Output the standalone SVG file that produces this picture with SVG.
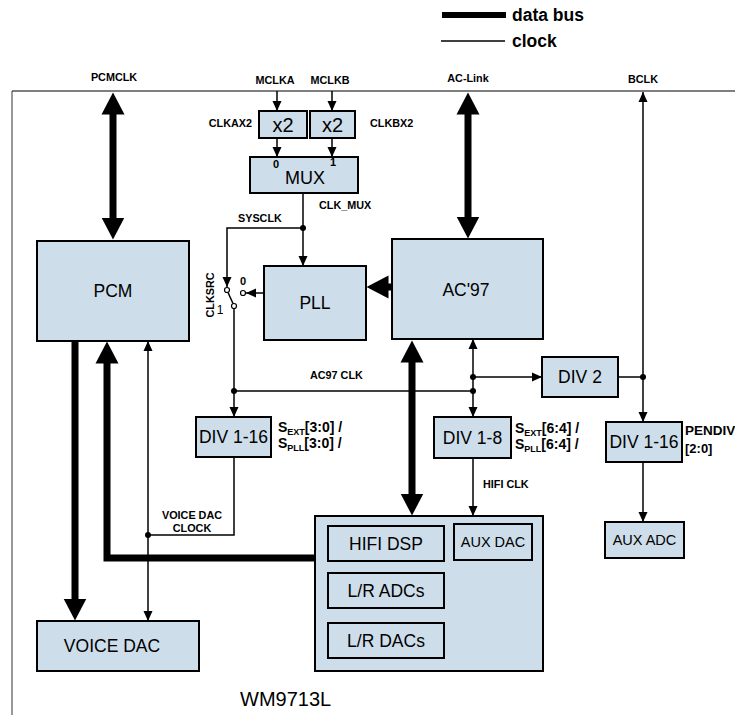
<svg xmlns="http://www.w3.org/2000/svg" width="735" height="715" viewBox="0 0 735 715">
<style>
.box{fill:#cddde9;stroke:#000;stroke-width:2}
.lbl{font-family:"Liberation Sans",Arial,sans-serif;font-size:17.5px;fill:#000;text-anchor:middle}
.sm{font-size:14.5px}
.b{font-family:"Liberation Sans",Arial,sans-serif;font-weight:bold;font-size:10.8px;fill:#000}
.c{text-anchor:middle}
.s{font-family:"Liberation Sans",Arial,sans-serif;font-weight:bold;font-size:14px;fill:#000}
.sub{font-size:9px}
.thin{fill:none;stroke:#000;stroke-width:1.5}
.thick{fill:none;stroke:#000;stroke-width:7}
.dot{fill:#000}
.term{fill:#fff;stroke:#000;stroke-width:1.2}
</style>
<defs>
<marker id="ta" markerUnits="userSpaceOnUse" markerWidth="12" markerHeight="12" viewBox="0 -6 12 12" refX="10" refY="0" orient="auto-start-reverse">
<path d="M0,-4.5 L10,0 L0,4.5 z" fill="#000"/>
</marker>
<marker id="ba" markerUnits="userSpaceOnUse" markerWidth="24" markerHeight="24" viewBox="0 -12 24 24" refX="0.5" refY="0" orient="auto-start-reverse">
<path d="M0,-11.5 L22,0 L0,11.5 z" fill="#000"/>
</marker>
</defs>

<!-- legend -->
<g id="legend">
<line x1="442" y1="15" x2="506" y2="15" stroke="#000" stroke-width="6"/>
<text x="512" y="21" class="b" style="font-size:17.5px">data bus</text>
<line x1="441" y1="41" x2="505" y2="41" stroke="#000" stroke-width="1.5"/>
<text x="512" y="47" class="b" style="font-size:17.5px">clock</text>
</g>

<!-- chip frame -->
<g id="frame">
<line x1="12" y1="91" x2="735" y2="91" stroke="#555" stroke-width="1.5"/>
<line x1="12" y1="91" x2="12" y2="715" stroke="#333" stroke-width="1"/>
<text x="240" y="706" style="font-family:'Liberation Sans',Arial,sans-serif;font-size:20px">WM9713L</text>
</g>

<!-- pin labels -->
<g id="pins">
<text x="114" y="81" class="b c">PCMCLK</text>
<text x="275" y="84" class="b c">MCLKA</text>
<text x="330" y="84" class="b c">MCLKB</text>
<text x="468" y="82" class="b c">AC-Link</text>
<text x="643" y="83" class="b c">BCLK</text>
</g>

<!-- connectors -->
<g id="connectors">
<!-- thick buses -->
<line x1="113" y1="114" x2="113" y2="218" class="thick" marker-start="url(#ba)" marker-end="url(#ba)"/>
<line x1="468" y1="114" x2="468" y2="217" class="thick" marker-start="url(#ba)" marker-end="url(#ba)"/>
<line x1="392" y1="287" x2="388" y2="287" class="thick" marker-end="url(#ba)"/>
<line x1="75" y1="341" x2="75" y2="599" class="thick" marker-end="url(#ba)"/>
<path d="M316,558 H107 V363" class="thick" marker-end="url(#ba)"/>
<line x1="412" y1="362" x2="412" y2="494" class="thick" marker-start="url(#ba)" marker-end="url(#ba)"/>

<!-- clocks -->
<line x1="277" y1="91" x2="277" y2="111" class="thin" marker-end="url(#ta)"/>
<line x1="332" y1="91" x2="332" y2="111" class="thin" marker-end="url(#ta)"/>
<line x1="277" y1="138" x2="277" y2="157" class="thin" marker-end="url(#ta)"/>
<line x1="332" y1="138" x2="332" y2="157" class="thin" marker-end="url(#ta)"/>
<line x1="303" y1="193" x2="303" y2="266" class="thin" marker-end="url(#ta)"/>
<path d="M303,228 H227 V287" class="thin" marker-end="url(#ta)"/>
<circle cx="303" cy="228" r="3" class="dot"/>
<line x1="264" y1="293" x2="246" y2="293" class="thin" marker-end="url(#ta)"/>
<line x1="228" y1="292.5" x2="233" y2="303.5" class="thin"/>
<line x1="234" y1="308.5" x2="234" y2="417" class="thin" marker-end="url(#ta)"/>
<circle cx="227" cy="290" r="2.5" class="term"/>
<circle cx="243" cy="293" r="2.5" class="term"/>
<circle cx="234" cy="306" r="2.5" class="term"/>

<line x1="234" y1="391" x2="473" y2="391" class="thin"/>
<circle cx="234" cy="391" r="3" class="dot"/>
<circle cx="473" cy="391" r="3" class="dot"/>

<path d="M234,457 V535 H148" class="thin"/>
<circle cx="148" cy="535" r="3" class="dot"/>
<line x1="148" y1="341" x2="148" y2="621" class="thin" marker-start="url(#ta)" marker-end="url(#ta)"/>

<line x1="473" y1="339" x2="473" y2="417" class="thin" marker-start="url(#ta)" marker-end="url(#ta)"/>
<line x1="473" y1="377" x2="542" y2="377" class="thin" marker-end="url(#ta)"/>
<circle cx="473" cy="377" r="3" class="dot"/>
<line x1="618" y1="377" x2="643" y2="377" class="thin"/>
<circle cx="643" cy="377" r="3" class="dot"/>
<line x1="643" y1="92" x2="643" y2="422" class="thin" marker-start="url(#ta)" marker-end="url(#ta)"/>
<line x1="473" y1="458" x2="473" y2="516" class="thin" marker-end="url(#ta)"/>
<line x1="643" y1="462" x2="643" y2="522" class="thin" marker-end="url(#ta)"/>
</g>

<!-- connector labels -->
<g id="labels">
<text x="252" y="127" class="b" text-anchor="end">CLKAX2</text>
<text x="370" y="127" class="b">CLKBX2</text>
<text x="319" y="209" class="b">CLK_MUX</text>
<text x="238" y="222" class="b">SYSCLK</text>
<text x="0" y="0" class="b c" transform="translate(214,295) rotate(-90)">CLKSRC</text>
<text x="243" y="285" class="b c" style="font-size:11px">0</text>
<text x="220" y="314" style="font-family:'Liberation Sans',Arial,sans-serif;font-size:12px" text-anchor="middle">1</text>
<text x="310" y="379" class="b">AC97 CLK</text>
<text x="483" y="488" class="b">HIFI CLK</text>
<text x="192" y="519" class="b c">VOICE DAC</text>
<text x="192" y="532" class="b c">CLOCK</text>
<text x="278" y="432" class="s">S<tspan class="sub" dy="3">EXT</tspan><tspan dy="-3">[3:0] /</tspan></text>
<text x="278" y="448" class="s">S<tspan class="sub" dy="3">PLL</tspan><tspan dy="-3">[3:0] /</tspan></text>
<text x="515" y="433" class="s">S<tspan class="sub" dy="3">EXT</tspan><tspan dy="-3">[6:4] /</tspan></text>
<text x="515" y="449" class="s">S<tspan class="sub" dy="3">PLL</tspan><tspan dy="-3">[6:4] /</tspan></text>
<text x="685" y="435" class="b" style="font-size:13.5px">PENDIV</text>
<text x="685" y="453" class="b" style="font-size:13px">[2:0]</text>
</g>

<!-- nodes -->
<g id="pcm"><rect x="37" y="241" width="152" height="100" class="box"/><text x="113" y="297" class="lbl">PCM</text></g>
<g id="x2a"><rect x="259" y="111" width="48" height="27" class="box"/><text x="283" y="132" class="lbl" style="font-size:20px">x2</text></g>
<g id="x2b"><rect x="310" y="111" width="45" height="27" class="box"/><text x="332.5" y="132" class="lbl" style="font-size:20px">x2</text></g>
<g id="mux"><rect x="250" y="157" width="108" height="36" class="box"/><text x="305" y="184" class="lbl" style="font-size:18px">MUX</text>
<text x="276" y="168" class="b c" style="font-size:11px">0</text><text x="333" y="166" class="b c" style="font-size:11px">1</text></g>
<g id="pll"><rect x="264" y="266" width="102" height="74" class="box"/><text x="315" y="309" class="lbl">PLL</text></g>
<g id="ac97"><rect x="392" y="239" width="151" height="100" class="box"/><text x="466" y="296" class="lbl">AC'97</text></g>
<g id="div2"><rect x="542" y="357" width="76" height="40" class="box"/><text x="580" y="383" class="lbl">DIV 2</text></g>
<g id="div116a"><rect x="196" y="417" width="75" height="40" class="box"/><text x="233.5" y="443" class="lbl">DIV 1-16</text></g>
<g id="div18"><rect x="434" y="417" width="77" height="41" class="box"/><text x="472.5" y="444" class="lbl">DIV 1-8</text></g>
<g id="div116b"><rect x="606" y="422" width="76" height="40" class="box"/><text x="644" y="448" class="lbl">DIV 1-16</text></g>
<g id="auxadc"><rect x="605" y="522" width="79" height="36" class="box"/><text x="644.5" y="545" class="lbl sm">AUX ADC</text></g>
<g id="hifi"><rect x="315" y="516" width="228" height="155" class="box"/>
<g id="hifidsp"><rect x="328" y="526" width="116" height="35" class="box"/><text x="386" y="550" class="lbl">HIFI DSP</text></g>
<g id="auxdac"><rect x="454" y="524" width="78" height="36" class="box"/><text x="493" y="547" class="lbl sm">AUX DAC</text></g>
<g id="lradc"><rect x="328" y="573" width="116" height="35" class="box"/><text x="386" y="597" class="lbl">L/R ADCs</text></g>
<g id="lrdac"><rect x="328" y="623" width="116" height="35" class="box"/><text x="386" y="647" class="lbl">L/R DACs</text></g>
</g>
<g id="voicedac"><rect x="37" y="621" width="162" height="50" class="box"/><text x="112" y="652" class="lbl">VOICE DAC</text></g>
</svg>
